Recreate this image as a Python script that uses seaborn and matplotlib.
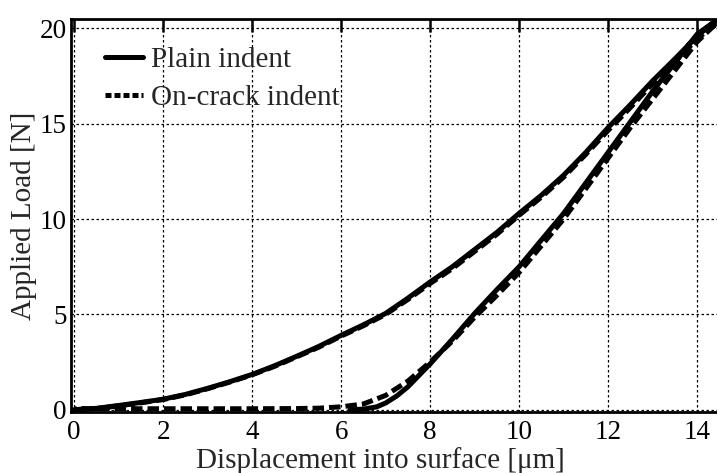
import numpy as np
import pandas as pd
import matplotlib
matplotlib.use("Agg")
import matplotlib.pyplot as plt
import seaborn as sns

# ---- data ----
plain_load_x = [0, 0.5, 1, 1.5, 2, 2.5, 3, 3.5, 4, 4.5, 5, 5.5, 6, 6.5, 7, 7.5, 8,
                8.5, 9, 9.5, 10, 10.5, 11, 11.5, 12, 12.5, 13, 13.5, 14, 14.42]
plain_load_y = [0, 0.07, 0.22, 0.38, 0.55, 0.8, 1.12, 1.47, 1.85, 2.3, 2.8, 3.32, 3.9,
                4.45, 5.05, 5.85, 6.7, 7.5, 8.4, 9.3, 10.3, 11.25, 12.3, 13.5, 14.8,
                16.0, 17.25, 18.4, 19.6, 20.4]
plain_unload_x = [14.42, 14, 13.5, 13, 12.5, 12, 11.5, 11, 10.5, 10, 9.5, 9, 8.5, 8,
                  7.75, 7.5, 7.25, 7.0, 6.8, 6.5, 6.2]
plain_unload_y = [20.4, 19.7, 18.2, 16.7, 15.1, 13.5, 11.9, 10.3, 8.9, 7.5, 6.3, 5.05,
                  3.7, 2.4, 1.8, 1.2, 0.72, 0.35, 0.15, 0.03, 0.0]

crack_load_x = [0, 0.5, 1, 1.5, 2, 2.5, 3, 3.5, 4, 4.5, 5, 5.5, 6, 6.5, 7, 7.5, 8,
                8.5, 9, 9.5, 10, 10.5, 11, 11.5, 12, 12.5, 13, 13.5, 14, 14.45]
crack_load_y = [0, 0.06, 0.2, 0.36, 0.53, 0.78, 1.1, 1.45, 1.83, 2.27, 2.77, 3.28,
                3.86, 4.4, 5.0, 5.78, 6.62, 7.4, 8.3, 9.2, 10.2, 11.15, 12.2, 13.4,
                14.65, 15.85, 17.1, 18.25, 19.45, 20.3]
crack_unload_x = [14.45, 14, 13.5, 13, 12.5, 12, 11.5, 11, 10.5, 10, 9.5, 9, 8.5, 8,
                  7.5, 7, 6.5, 6, 5.5, 5, 4, 3, 2, 1, 0]
crack_unload_y = [20.3, 19.3, 17.8, 16.3, 14.8, 13.2, 11.6, 10.0, 8.6, 7.2, 6.0, 4.85,
                  3.6, 2.5, 1.5, 0.75, 0.3, 0.15, 0.08, 0.06, 0.05, 0.05, 0.05, 0.05,
                  0.05]

x_ticks = [0, 2, 4, 6, 8, 10, 12, 14]
y_ticks = [0, 5, 10, 15, 20]

series_names = ["Plain indent", "On-crack indent"]

plain = pd.DataFrame({"x": plain_load_x + plain_unload_x,
                      "y": plain_load_y + plain_unload_y})
crack = pd.DataFrame({"x": crack_load_x + crack_unload_x,
                      "y": crack_load_y + crack_unload_y})

sns.set_theme(style="white")
plt.rcParams["font.family"] = ["Liberation Serif", "DejaVu Serif"]

fig = plt.figure(figsize=(7.17, 4.73), dpi=100)
ax = fig.add_axes([0.099, 0.129, 0.9075, 0.8308])

sns.lineplot(data=plain, x="x", y="y", sort=False, estimator=None, ax=ax,
             color="black", linewidth=3.6, label=series_names[0], zorder=3)
sns.lineplot(data=crack, x="x", y="y", sort=False, estimator=None, ax=ax,
             color="black", linewidth=3.6, label=series_names[1], zorder=4,
             dashes=False)
ax.lines[1].set_dashes([2.3, 1.0])

ax.set_xlim(-0.07, 14.55)
ax.set_ylim(-0.12, 20.49)
ax.set_xticks(x_ticks)
ax.set_yticks(y_ticks)
ax.grid(True, color="black", linestyle=(0, (2, 2)), linewidth=0.9)
ax.set_axisbelow(True)

for s in ax.spines.values():
    s.set_color("black")
    s.set_linewidth(2.0)

ax.tick_params(direction="in", length=9, width=1.8, top=True, right=False,
               colors="black", labelsize=19.5)
ax.tick_params(axis="x", pad=6)
ax.tick_params(axis="y", pad=3)

ax.set_xlabel("Displacement into surface [μm]", fontsize=21, labelpad=0)
ax.xaxis.set_label_coords(0.475, -0.088)
ax.set_ylabel("Applied Load [N]", fontsize=21, labelpad=2)

leg = ax.legend(loc="upper left", bbox_to_anchor=(0.052, 0.93), frameon=False,
                fontsize=21, handlelength=1.3, handletextpad=0.3,
                labelspacing=0.39, borderpad=0, borderaxespad=0)
for h in leg.get_lines():
    h.set_linewidth(3.6)
leg.get_lines()[1].set_dashes([1.2, 0.6])

fig.savefig("out.png", dpi=100)
